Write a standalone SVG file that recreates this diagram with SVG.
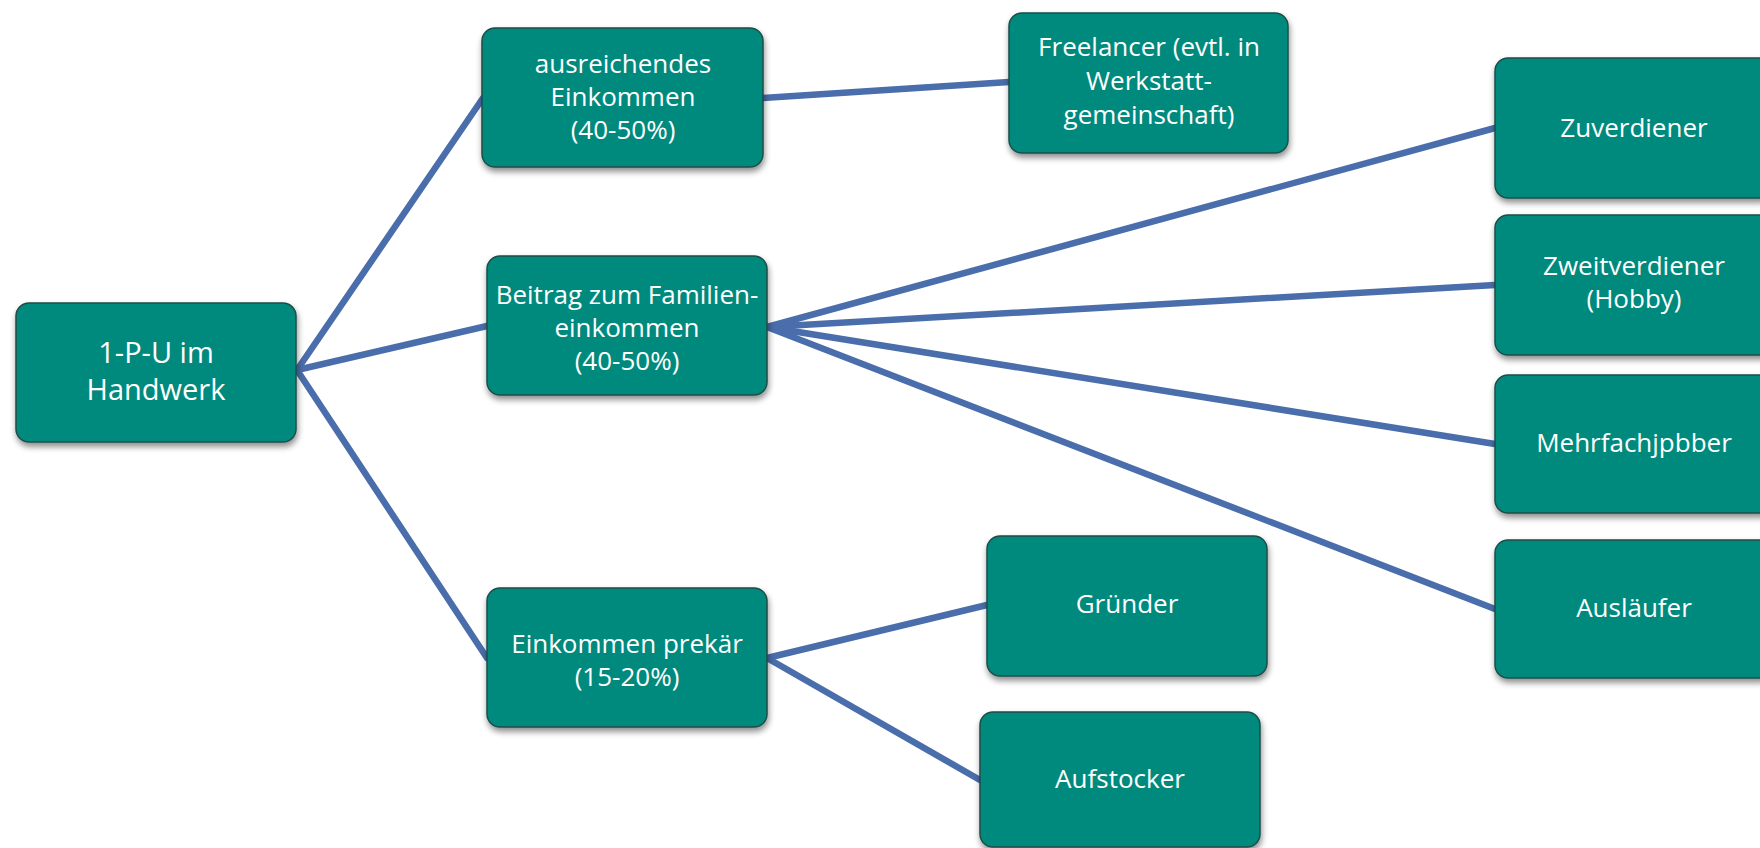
<svg xmlns="http://www.w3.org/2000/svg" width="1760" height="848" viewBox="0 0 1760 848">
  <defs>
    <filter id="sh" x="-10%" y="-10%" width="120%" height="130%">
      <feGaussianBlur in="SourceAlpha" stdDeviation="3"/>
      <feOffset dx="1" dy="4" result="b"/>
      <feComponentTransfer><feFuncA type="linear" slope="0.45"/></feComponentTransfer>
      <feMerge><feMergeNode/><feMergeNode in="SourceGraphic"/></feMerge>
    </filter>
  </defs>
  <style>
    .box { fill: #008A7E; stroke: #1E4E48; stroke-width: 1.5; filter: url(#sh); }
    .t { font-family: "Open Sans", "Noto Sans", sans-serif; font-size: 26px; fill: #FFFFFF; text-anchor: middle; }
    .root { font-size: 29px; }
    .c { stroke: #4A6DAB; stroke-width: 6.5; fill: none; stroke-linecap: round; }
  </style>
  <rect width="1760" height="848" fill="#FFFFFF"/>
  <g id="connectors">
    <line class="c" x1="297" y1="370" x2="483" y2="98"/>
    <line class="c" x1="297" y1="370" x2="487" y2="326"/>
    <line class="c" x1="297" y1="370" x2="487" y2="658"/>
    <line class="c" x1="763" y1="98" x2="1009" y2="82"/>
    <line class="c" x1="767" y1="327" x2="1495" y2="128"/>
    <line class="c" x1="767" y1="327" x2="1495" y2="285"/>
    <line class="c" x1="767" y1="327" x2="1495" y2="444"/>
    <line class="c" x1="767" y1="327" x2="1495" y2="609"/>
    <line class="c" x1="767" y1="658" x2="987" y2="605"/>
    <line class="c" x1="767" y1="658" x2="980" y2="780"/>
  </g>
  <g id="n-root">
    <rect class="box" x="16" y="303" width="280" height="139" rx="13"/>
    <text class="t root" x="156" y="363">1-P-U im</text>
    <text class="t root" x="156" y="400">Handwerk</text>
  </g>
  <g id="n-ausreichend">
    <rect class="box" x="482" y="28" width="281" height="139" rx="13"/>
    <text class="t" x="623" y="73">ausreichendes</text>
    <text class="t" x="623" y="106">Einkommen</text>
    <text class="t" x="623" y="139">(40-50%)</text>
  </g>
  <g id="n-beitrag">
    <rect class="box" x="487" y="256" width="280" height="139" rx="13"/>
    <text class="t" x="627" y="304">Beitrag zum Familien-</text>
    <text class="t" x="627" y="337">einkommen</text>
    <text class="t" x="627" y="370">(40-50%)</text>
  </g>
  <g id="n-prekaer">
    <rect class="box" x="487" y="588" width="280" height="139" rx="13"/>
    <text class="t" x="627" y="653">Einkommen prekär</text>
    <text class="t" x="627" y="686">(15-20%)</text>
  </g>
  <g id="n-freelancer">
    <rect class="box" x="1009" y="13" width="279" height="140" rx="13"/>
    <text class="t" x="1149" y="56">Freelancer (evtl. in</text>
    <text class="t" x="1149" y="90">Werkstatt-</text>
    <text class="t" x="1149" y="124">gemeinschaft)</text>
  </g>
  <g id="n-gruender">
    <rect class="box" x="987" y="536" width="280" height="140" rx="13"/>
    <text class="t" x="1127" y="613">Gründer</text>
  </g>
  <g id="n-aufstocker">
    <rect class="box" x="980" y="712" width="280" height="135" rx="13"/>
    <text class="t" x="1120" y="788">Aufstocker</text>
  </g>
  <g id="n-zuverdiener">
    <rect class="box" x="1495" y="58" width="279" height="140" rx="13"/>
    <text class="t" x="1634" y="137">Zuverdiener</text>
  </g>
  <g id="n-zweitverdiener">
    <rect class="box" x="1495" y="215" width="279" height="140" rx="13"/>
    <text class="t" x="1634" y="275">Zweitverdiener</text>
    <text class="t" x="1634" y="308">(Hobby)</text>
  </g>
  <g id="n-mehrfach">
    <rect class="box" x="1495" y="375" width="279" height="138" rx="13"/>
    <text class="t" x="1634" y="452">Mehrfachjpbber</text>
  </g>
  <g id="n-auslaeufer">
    <rect class="box" x="1495" y="540" width="279" height="138" rx="13"/>
    <text class="t" x="1634" y="617">Ausläufer</text>
  </g>
</svg>
